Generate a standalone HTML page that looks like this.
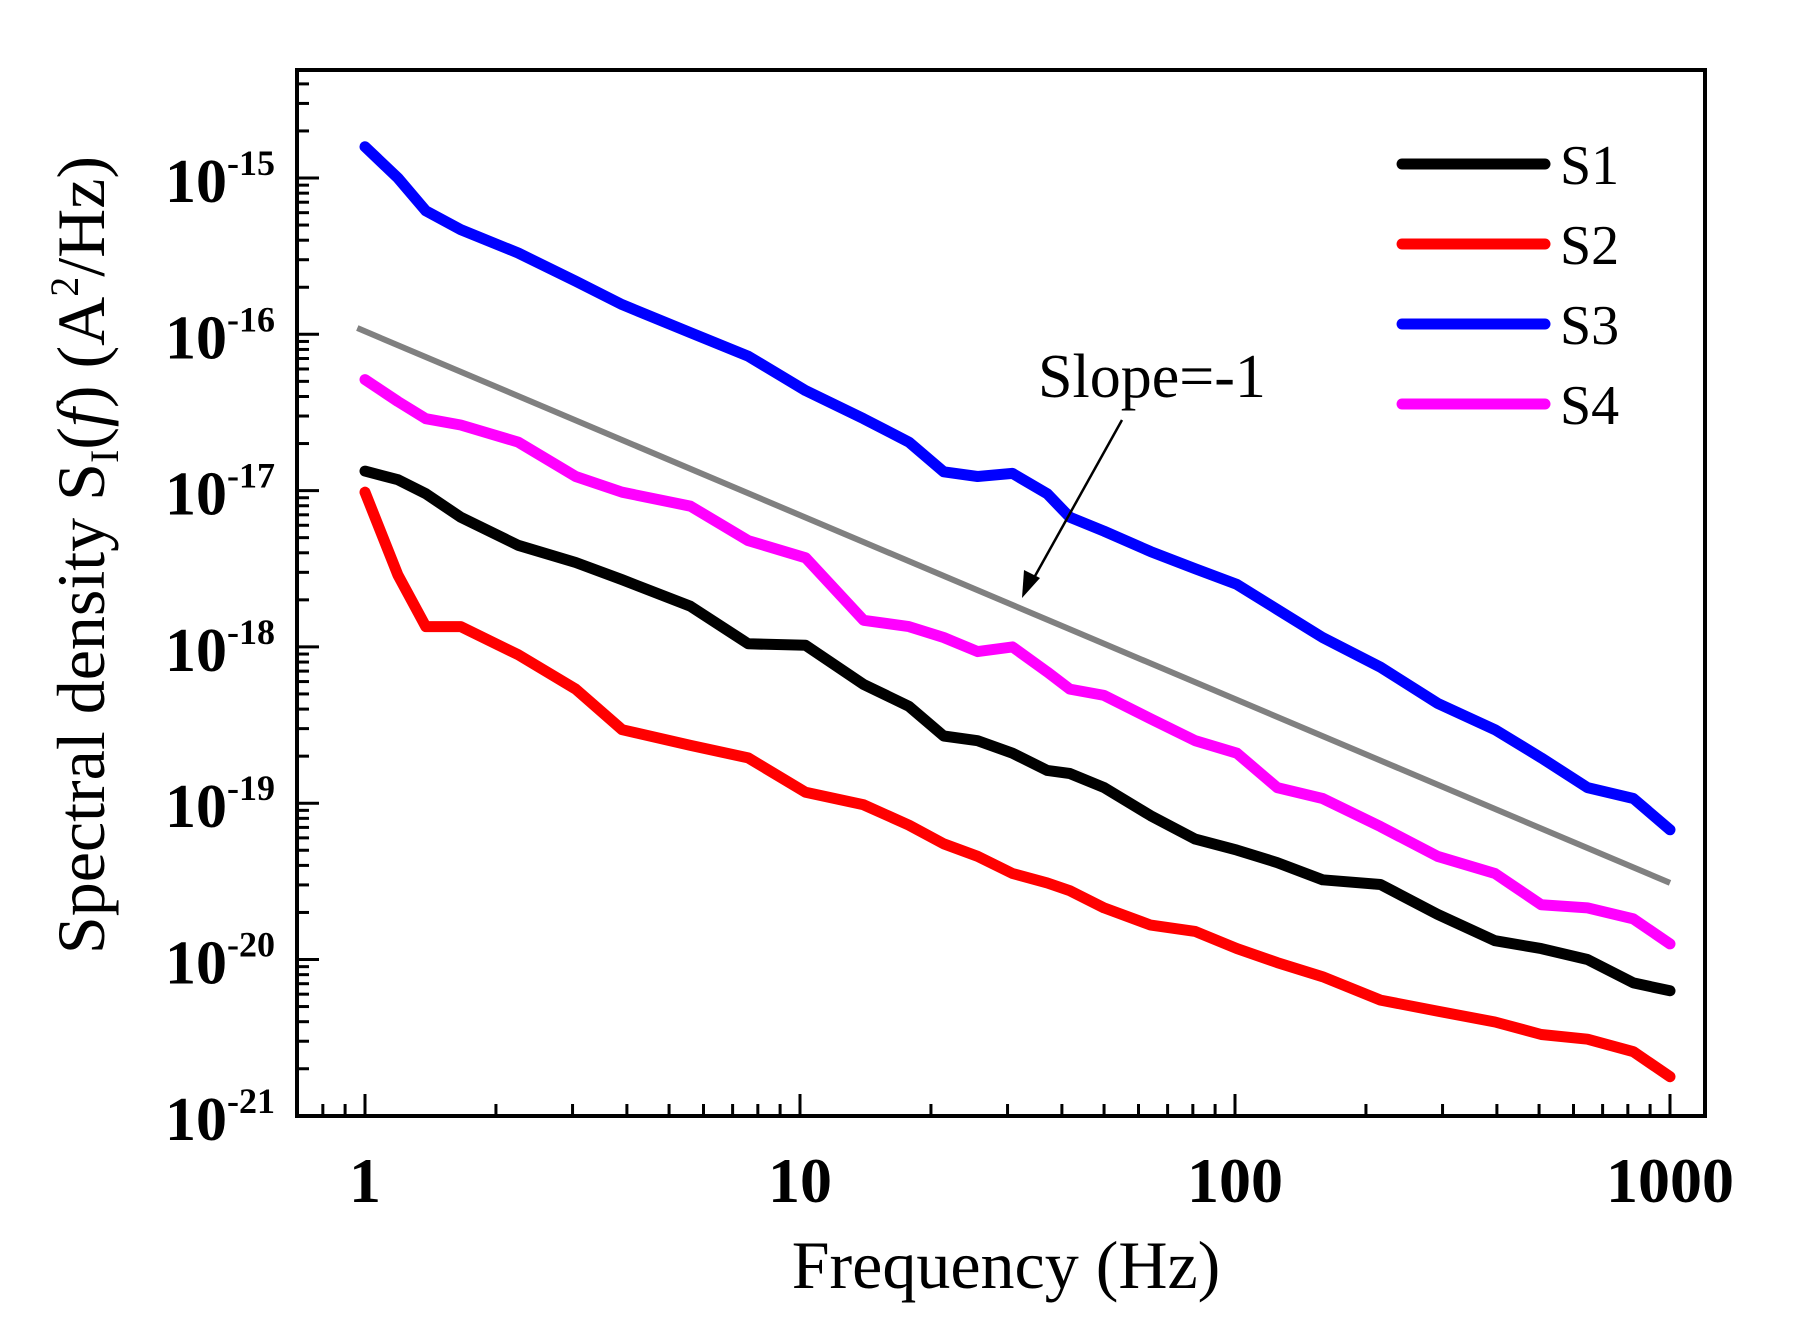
<!DOCTYPE html>
<html><head><meta charset="utf-8"><style>
body{margin:0;background:#fff;}
svg{display:block;font-family:"Liberation Serif",serif;}
</style></head><body>
<svg id="chart" width="1803" height="1328" viewBox="0 0 1803 1328" xmlns="http://www.w3.org/2000/svg">
<rect width="1803" height="1328" fill="#fff"/>
<g id="plot"></g>
</svg>
<script>
const freqs=[1,1.19,1.38,1.66,2.25,3.05,3.9,5.6,7.6,10.3,14,17.8,21.4,25.6,30.8,37,41.7,50,64,81,101,125,159,216,292,396,506,646,824,1000];
const s1=[-16.875,-16.93,-17.02,-17.17,-17.35,-17.46,-17.57,-17.74,-17.98,-17.99,-18.24,-18.38,-18.57,-18.60,-18.68,-18.79,-18.81,-18.90,-19.08,-19.23,-19.30,-19.38,-19.49,-19.52,-19.71,-19.88,-19.93,-20.00,-20.15,-20.20];
const s2=[-17.01,-17.54,-17.87,-17.87,-18.05,-18.27,-18.53,-18.63,-18.71,-18.93,-19.01,-19.14,-19.26,-19.34,-19.45,-19.51,-19.56,-19.67,-19.78,-19.82,-19.93,-20.02,-20.11,-20.26,-20.33,-20.40,-20.48,-20.51,-20.59,-20.75];
const s3=[-14.80,-15.0,-15.21,-15.33,-15.48,-15.66,-15.81,-15.99,-16.14,-16.36,-16.54,-16.69,-16.88,-16.91,-16.89,-17.02,-17.17,-17.26,-17.39,-17.50,-17.60,-17.76,-17.94,-18.13,-18.36,-18.53,-18.71,-18.90,-18.97,-19.17];
const s4=[-16.29,-16.43,-16.54,-16.58,-16.69,-16.91,-17.01,-17.10,-17.32,-17.43,-17.83,-17.87,-17.94,-18.03,-18.00,-18.16,-18.27,-18.31,-18.46,-18.60,-18.68,-18.90,-18.97,-19.15,-19.34,-19.45,-19.65,-19.67,-19.74,-19.90];
const slopeF=[0.96,1000];
const slopeL=[-15.96,-19.51];
const xTicks=[1,10,100,1000];
const xTickLabels=["1","10","100","1000"];
const yExps=[-15,-16,-17,-18,-19,-20,-21];
const seriesNames=["S1","S2","S3","S4"];

const NS="http://www.w3.org/2000/svg";
const g=document.getElementById('plot');
const L=297,R=1705,T=70,B=1116;
const xmap=f=>365+Math.log10(f)*435;
const ymap=l=>178+(-15-l)*156.3;
function mk(tag,attrs,parent){const e=document.createElementNS(NS,tag);for(const k in attrs)e.setAttribute(k,attrs[k]);(parent||g).appendChild(e);return e;}

for(let d=-1;d<=3;d++){for(let m=1;m<10;m++){const f=m*Math.pow(10,d);const x=xmap(f);if(x<L+2||x>R-2)continue;
const t=mk('line',{x1:x,x2:x,y1:B,y2:B-(m==1?22:12),stroke:'#000','stroke-width':3});

}}
for(let e=-22;e<=-14;e++){for(let m=1;m<10;m++){const l=e+Math.log10(m);const y=ymap(l);if(y<T+2||y>B-2)continue;
const t=mk('line',{x1:L,x2:L+(m==1?22:12),y1:y,y2:y,stroke:'#000','stroke-width':3});

}}

const sl=mk('line',{x1:xmap(slopeF[0]),y1:ymap(slopeL[0]),x2:xmap(slopeF[1]),y2:ymap(slopeL[1]),stroke:'#808080','stroke-width':6});



const colors=['#000000','#ff0000','#0000ff','#ff00ff'];
[s1,s2,s3,s4].forEach((s,i)=>{
 const d=s.map((v,j)=>(j?'L':'M')+xmap(freqs[j]).toFixed(1)+' '+ymap(v).toFixed(1)).join(' ');
 const p=mk('path',{d:d,fill:'none',stroke:colors[i],'stroke-width':11,'stroke-linejoin':'round','stroke-linecap':'round'});
 
 
 const ly=164+i*80;
 const ll=mk('line',{x1:1402,x2:1545,y1:ly,y2:ly,stroke:colors[i],'stroke-width':11,'stroke-linecap':'round'});
 
 
 const lt=mk('text',{x:1560,y:ly+20,'font-size':56});
 lt.textContent=seriesNames[i];
 
 
});

const fr=mk('rect',{x:L,y:T,width:R-L,height:B-T,fill:'none',stroke:'#000','stroke-width':4});



xTicks.forEach((f,i)=>{const t=mk('text',{x:xmap(f),y:1202,'text-anchor':'middle','font-size':64,'font-weight':'bold'});
t.textContent=xTickLabels[i];

});
yExps.forEach(e=>{const t=mk('text',{x:165,y:ymap(e)+24,'font-size':62,'font-weight':'bold'});
t.textContent='10';
const s=mk('tspan',{dy:-27,'font-size':36},t);s.textContent=String(e);

});

const xt=mk('text',{x:1006,y:1288,'text-anchor':'middle','font-size':68});
xt.textContent='Frequency (Hz)';


const yt=mk('text',{transform:'translate(104,555) rotate(-90)','text-anchor':'middle','font-size':68});
yt.innerHTML='Spectral density S<tspan font-size="40" dy="14">I</tspan><tspan dy="-14">(</tspan><tspan font-style="italic">f</tspan>) (A<tspan font-size="40" dy="-26">2</tspan><tspan dy="26">/Hz)</tspan>';



const at=mk('text',{x:1038,y:397,'font-size':62});
at.textContent='Slope=-1';


const ar=mk('line',{x1:1122,y1:420,x2:1030,y2:585,stroke:'#000','stroke-width':2.5});


const ah=mk('path',{d:'M1022 598 L1024 570 L1040 578 Z',fill:'#000'});


</script>
</body></html>
